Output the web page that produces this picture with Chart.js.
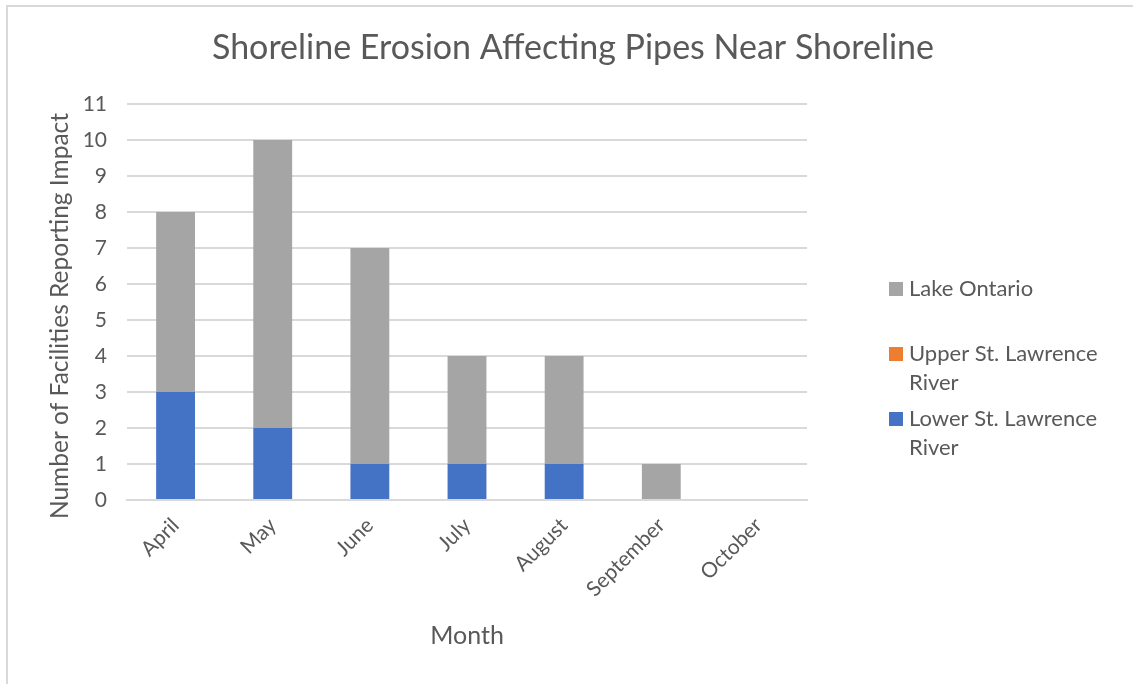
<!DOCTYPE html>
<html>
<head>
<meta charset="utf-8">
<title>Shoreline Erosion Affecting Pipes Near Shoreline</title>
<script src="https://cdn.jsdelivr.net/npm/chart.js@4.4.1/dist/chart.umd.min.js"></script>
<style>
    body { margin: 0; background: #fff; }
    #wrap { position: relative; width: 1133px; height: 684px; overflow: hidden; }
    #frame {
        position: absolute; left: 6px; top: 5px; width: 1200px; height: 760px;
        border-left: 2px solid #d9d9d9; border-top: 2px solid #d9d9d9;
    }
    #chart { position: absolute; left: 0; top: 0; }
</style>
</head>
<body>
<div id="wrap">
    <div id="frame"></div>
    <canvas id="chart" width="1133" height="684"></canvas>
</div>
<script>
const months = ['April', 'May', 'June', 'July', 'August', 'September', 'October'];
const lowerStLawrence = [3, 2, 1, 1, 1, 0, 0];
const upperStLawrence = [0, 0, 0, 0, 0, 0, 0];
const lakeOntario = [5, 8, 6, 3, 3, 1, 0];

const chartTitle = 'Shoreline Erosion Affecting Pipes Near Shoreline';
const yTitle = 'Number of Facilities Reporting Impact';
const textColor = '#595959';
const fontFamily = 'Lato, "Open Sans", sans-serif';

// title, y axis title and wrapped legend on the right, drawn like the office chart
const decorPlugin = {
    id: 'decor',
    afterDraw(chart) {
        const ctx = chart.ctx;
        ctx.save();
        ctx.fillStyle = textColor;
        ctx.font = '34px ' + fontFamily;
        ctx.textAlign = 'center';
        ctx.textBaseline = 'middle';
        ctx.fillText(chartTitle, 573, 48);

        // y title sits a bit below the plot centre in the original
        ctx.save();
        ctx.font = '24.5px ' + fontFamily;
        ctx.translate(60, 316);
        ctx.rotate(-Math.PI / 2);
        ctx.fillText(yTitle, 0, 0);
        ctx.restore();

        ctx.font = '22px ' + fontFamily;
        ctx.textAlign = 'left';
        const items = chart.data.datasets.slice().reverse();
        const lx = chart.chartArea.right + 82;
        let y = 289;
        items.forEach(ds => {
            ctx.fillStyle = ds.backgroundColor;
            ctx.fillRect(lx, y - 7, 14, 14);
            ctx.fillStyle = textColor;
            const lines = wrapText(ctx, ds.label, 215);
            lines.forEach((line, i) => {
                ctx.fillText(line, lx + 20, y + i * 29);
            });
            y += 65;
        });
        ctx.restore();
    }
};

function wrapText(ctx, text, maxWidth) {
    const words = text.split(' ');
    const lines = [];
    let cur = '';
    words.forEach(w => {
        const test = cur ? cur + ' ' + w : w;
        if (cur && ctx.measureText(test).width > maxWidth) {
            lines.push(cur);
            cur = w;
        } else {
            cur = test;
        }
    });
    if (cur) lines.push(cur);
    return lines;
}

const ctx = document.getElementById('chart').getContext('2d');
new Chart(ctx, {
    type: 'bar',
    data: {
        labels: months,
        datasets: [
            {
                label: 'Lower St. Lawrence River',
                data: lowerStLawrence,
                backgroundColor: '#4472C4'
            },
            {
                label: 'Upper St. Lawrence River',
                data: upperStLawrence,
                backgroundColor: '#ED7D31'
            },
            {
                label: 'Lake Ontario',
                data: lakeOntario,
                backgroundColor: '#A5A5A5'
            }
        ]
    },
    options: {
        responsive: false,
        animation: false,
        layout: {
            padding: { left: 0, top: 104, right: 1133 - 807, bottom: 0 }
        },
        datasets: {
            bar: { categoryPercentage: 0.4, barPercentage: 1.0 }
        },
        plugins: {
            legend: { display: false },
            title: { display: false },
            tooltip: { enabled: false }
        },
        scales: {
            x: {
                stacked: true,
                afterFit: function(scale) { scale.height = 684 - 500; },
                grid: { display: false, drawTicks: false },
                border: { display: true, color: '#d9d9d9', width: 2 },
                ticks: {
                    color: textColor,
                    font: { family: fontFamily, size: 21 },
                    minRotation: 45,
                    maxRotation: 45,
                    padding: 13
                },
                title: {
                    display: true,
                    text: 'Month',
                    color: textColor,
                    font: { family: fontFamily, size: 25 },
                    padding: { top: 0, bottom: 33 }
                }
            },
            y: {
                stacked: true,
                min: 0,
                max: 11,
                afterFit: function(scale) { scale.width = 127; },
                grid: { color: '#d9d9d9', lineWidth: 2, drawTicks: false },
                border: { display: false },
                ticks: {
                    stepSize: 1,
                    color: textColor,
                    font: { family: fontFamily, size: 21 },
                    padding: 20
                }
            }
        }
    },
    plugins: [decorPlugin]
});
</script>
</body>
</html>
